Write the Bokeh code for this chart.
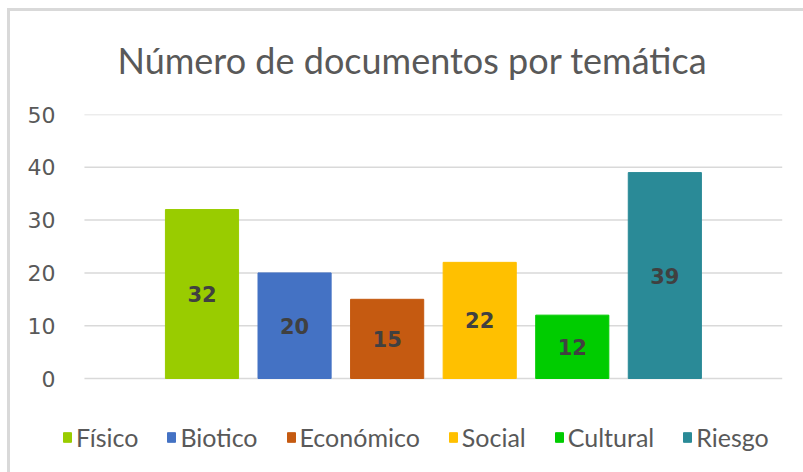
from bokeh.plotting import figure
from bokeh.models import ColumnDataSource, FixedTicker, Legend, LegendItem, Range1d
from bokeh.core.properties import value
from bokeh.embed import file_html
from bokeh.resources import INLINE

categories = ["Físico", "Biotico", "Económico", "Social", "Cultural", "Riesgo"]
counts = [32, 20, 15, 22, 12, 39]
colors = ["#99CC00", "#4472C4", "#C55A11", "#FFC000", "#00CC00", "#2A8A97"]
y_ticks = [0, 10, 20, 30, 40, 50]
title_text = "Número de documentos por temática"

W, H = 803, 472
# frame spans the lower part too so the legend (drawn inside it) is not clipped
p = figure(width=W, height=H, output_backend="svg", toolbar_location=None,
           x_range=Range1d(-1.507, 6.271), y_range=Range1d(-17.8, 50),
           min_border_left=62, min_border_right=21, min_border_top=114, min_border_bottom=0)
p.border_fill_color = None
p.background_fill_color = None
p.styles = {"box-shadow": "inset 7px 8px 0 0 #ffffff, inset 10px 11px 0 0 #d9d9d9"}

p.title.text = title_text
p.title.align = "left"
p.title.offset = 55
p.title.text_font = "Lato"
p.title.text_font_size = "36px"
p.title.text_font_style = "normal"
p.title.text_color = "#595959"
p.title.standoff = 66

# horizontal gridlines at the tick values
grid_src = ColumnDataSource(dict(x0=[-1.27] * len(y_ticks), x1=[6.27] * len(y_ticks),
                                 y=y_ticks))
p.segment(x0="x0", x1="x1", y0="y", y1="y", source=grid_src, line_color="#d9d9d9", line_width=1.5)

items = []
for i, (cat, v, c) in enumerate(zip(categories, counts, colors)):
    src = ColumnDataSource(dict(x=[i], top=[v], mid=[v / 2], lab=[str(v)]))
    r = p.vbar(x="x", top="top", bottom=0, width=0.79, source=src, fill_color=c, line_color=c)
    p.text(x="x", y="mid", text="lab", source=src, text_align="center", text_baseline="middle",
           text_font=value("DejaVu Sans"), text_font_style="bold", text_font_size="21px",
           text_color="#404040")
    items.append(LegendItem(label=cat, renderers=[r]))

legend = Legend(items=items, orientation="horizontal", location=(0, 20),
                label_text_font="Lato", label_text_font_size="25px", label_text_color="#595959",
                glyph_width=10, glyph_height=12, label_standoff=4, spacing=28, padding=0, margin=0,
                border_line_color=None, background_fill_alpha=0)
p.add_layout(legend)

p.xaxis.visible = False
p.yaxis.ticker = FixedTicker(ticks=y_ticks)
p.yaxis.axis_line_color = None
p.yaxis.major_tick_line_color = None
p.yaxis.minor_tick_line_color = None
p.yaxis.major_label_standoff = 1
p.yaxis.major_label_text_font = "DejaVu Sans"
p.yaxis.major_label_text_font_size = "22px"
p.yaxis.major_label_text_color = "#595959"
p.xgrid.visible = False
p.ygrid.visible = False
p.outline_line_color = None

open("out.html", "w").write(file_html(p, INLINE))
